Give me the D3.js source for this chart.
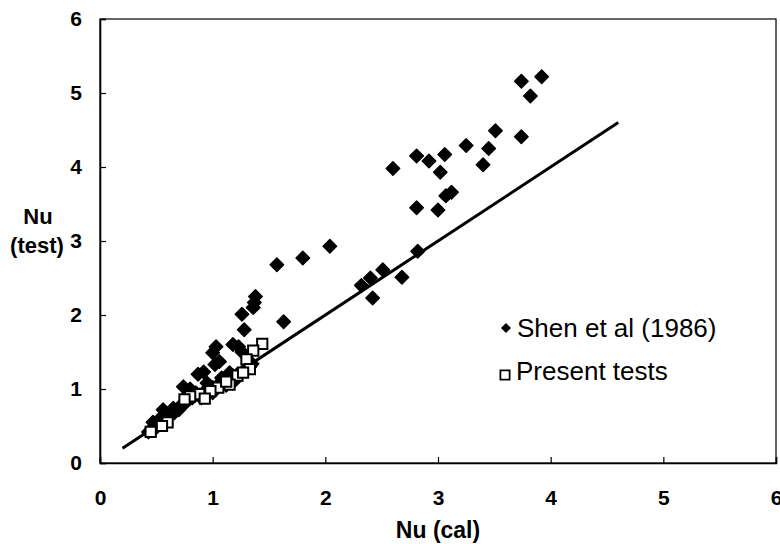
<!DOCTYPE html>
<html>
<head>
<meta charset="utf-8">
<script src="https://cdn.jsdelivr.net/npm/d3@7"></script>
<style>
  body { margin: 0; background: #fff; }
  svg text { font-family: "Liberation Sans", Arial, sans-serif; fill: #000; }
</style>
</head>
<body>
<div id="chart"></div>
<script>
var width = 780, height = 544
var margin = {top: 19, right: 4, bottom: 81, left: 100}

// Shen et al (1986): [Nu cal, Nu test]
var shenData = [
  [3.92, 5.22], [3.74, 5.16], [3.82, 4.96], [3.51, 4.49], [3.74, 4.41],
  [3.45, 4.25], [3.25, 4.29], [3.40, 4.03], [3.06, 4.17], [2.92, 4.08],
  [2.81, 4.15], [3.02, 3.93], [2.60, 3.98], [3.12, 3.66], [3.07, 3.61],
  [2.81, 3.45], [3.00, 3.42], [2.04, 2.93], [1.80, 2.77], [1.57, 2.68],
  [2.82, 2.86], [2.51, 2.61], [2.40, 2.50], [2.68, 2.51], [2.32, 2.40],
  [2.42, 2.23], [1.63, 1.91],
  [1.38, 2.25], [1.37, 2.17], [1.36, 2.10], [1.26, 2.01], [1.28, 1.80],
  [1.03, 1.57], [1.00, 1.49], [1.18, 1.60], [1.23, 1.57], [1.26, 1.50],
  [1.06, 1.37], [1.02, 1.33], [0.92, 1.23], [0.87, 1.20], [0.74, 1.03],
  [0.80, 1.00], [0.56, 0.72], [0.62, 0.68], [0.47, 0.55], [0.52, 0.58],
  [0.43, 0.42], [0.48, 0.45],
  [0.55, 0.55], [0.60, 0.62], [0.66, 0.68], [0.70, 0.75], [0.75, 0.80],
  [0.78, 0.85], [0.82, 0.88], [0.88, 0.92], [0.92, 0.95], [0.95, 1.00],
  [1.00, 1.02], [1.05, 1.06], [1.10, 1.10], [1.14, 1.12], [1.18, 1.18],
  [1.22, 1.20], [1.28, 1.25], [1.33, 1.30], [1.35, 1.34], [0.90, 0.88],
  [1.00, 0.95], [1.12, 1.05], [1.20, 1.12], [0.85, 0.95], [0.95, 1.08],
  [1.08, 1.15], [1.15, 1.22], [0.70, 0.72], [0.65, 0.74]
]

// Present tests: [Nu cal, Nu test]
var presentData = [
  [1.44, 1.61], [1.36, 1.52], [1.30, 1.40], [1.33, 1.27], [1.22, 1.18],
  [1.15, 1.06], [1.05, 1.02], [0.98, 0.97], [0.88, 0.93], [0.80, 0.90],
  [0.75, 0.86], [0.60, 0.55], [0.55, 0.50], [0.45, 0.42], [1.27, 1.22],
  [1.12, 1.10], [0.93, 0.87]
]

// line of perfect agreement
var lineData = [[0.2, 0.2], [4.6, 4.6]]

var xTicks = [0, 1, 2, 3, 4, 5, 6]
var yTicks = [0, 1, 2, 3, 4, 5, 6]

var svg = d3.select("#chart")
  .append("svg")
  .attr("width", width)
  .attr("height", height)

var xScale = d3.scaleLinear()
  .domain([0, 6])
  .range([margin.left, width - margin.right])

var yScale = d3.scaleLinear()
  .domain([0, 6])
  .range([height - margin.bottom, margin.top])

// frame (top + right)
svg.append("rect")
  .attr("x", xScale(0))
  .attr("y", yScale(6))
  .attr("width", xScale(6) - xScale(0))
  .attr("height", yScale(0) - yScale(6))
  .attr("fill", "none")
  .attr("stroke", "#000")
  .attr("stroke-width", 1.2)

// axes, ticks pointing inward
var xAxis = d3.axisBottom(xScale)
  .tickValues(xTicks)
  .tickSize(-6)
  .tickPadding(27)
  .tickFormat(d3.format("d"))

var yAxis = d3.axisLeft(yScale)
  .tickValues(yTicks)
  .tickSize(-6)
  .tickPadding(18)
  .tickFormat(d3.format("d"))

svg.append("g")
  .attr("class", "x-axis")
  .attr("transform", `translate(0,${yScale(0)})`)
  .call(xAxis)
  .call(g => g.select(".domain").attr("stroke-width", 1.6))
  .selectAll("text")
  .attr("font-size", "21px")
  .attr("font-weight", "bold")

svg.append("g")
  .attr("class", "y-axis")
  .attr("transform", `translate(${xScale(0)},0)`)
  .call(yAxis)
  .call(g => g.select(".domain").attr("stroke-width", 1.6))
  .selectAll("text")
  .attr("font-size", "21px")
  .attr("font-weight", "bold")

svg.selectAll(".tick line").attr("stroke-width", 1.2)

// 1:1 line
svg.append("path")
  .datum(lineData)
  .attr("d", d3.line().x(d => xScale(d[0])).y(d => yScale(d[1])))
  .attr("stroke", "#000")
  .attr("stroke-width", 3)
  .attr("fill", "none")

var diamond = d3.symbol().type(d3.symbolSquare).size(90)
var square = d3.symbol().type(d3.symbolSquare).size(105)

svg.selectAll(".shen")
  .data(shenData)
  .enter()
  .append("path")
  .attr("class", "shen")
  .attr("d", diamond)
  .attr("transform", d => `translate(${xScale(d[0])},${yScale(d[1])}) rotate(45)`)
  .attr("fill", "#000")
  .attr("stroke", "#000")
  .attr("stroke-width", 1.5)
  .attr("stroke-linejoin", "round")

svg.selectAll(".present")
  .data(presentData)
  .enter()
  .append("path")
  .attr("class", "present")
  .attr("d", square)
  .attr("transform", d => `translate(${xScale(d[0])},${yScale(d[1])})`)
  .attr("fill", "#fff")
  .attr("stroke", "#000")
  .attr("stroke-width", 2)

// axis titles
svg.append("text")
  .attr("x", 438)
  .attr("y", 538)
  .attr("text-anchor", "middle")
  .attr("font-size", "23px")
  .attr("font-weight", "bold")
  .text("Nu (cal)")

svg.append("text")
  .attr("x", 38)
  .attr("y", 224)
  .attr("text-anchor", "middle")
  .attr("font-size", "22px")
  .attr("font-weight", "bold")
  .text("Nu")

svg.append("text")
  .attr("x", 37)
  .attr("y", 253)
  .attr("text-anchor", "middle")
  .attr("font-size", "22px")
  .attr("font-weight", "bold")
  .text("(test)")

// legend
var legend = svg.append("g").attr("transform", "translate(506,0)")

legend.append("path")
  .attr("d", d3.symbol().type(d3.symbolSquare).size(50))
  .attr("transform", "translate(0,328) rotate(45)")
  .attr("fill", "#000")

legend.append("text")
  .attr("x", 11)
  .attr("y", 337)
  .attr("font-size", "26px")
  .text("Shen et al (1986)")

legend.append("path")
  .attr("d", d3.symbol().type(d3.symbolSquare).size(85))
  .attr("transform", "translate(-1,375)")
  .attr("fill", "#fff")
  .attr("stroke", "#000")
  .attr("stroke-width", 1.8)

legend.append("text")
  .attr("x", 10)
  .attr("y", 380)
  .attr("font-size", "26px")
  .text("Present tests")
</script>
</body>
</html>
